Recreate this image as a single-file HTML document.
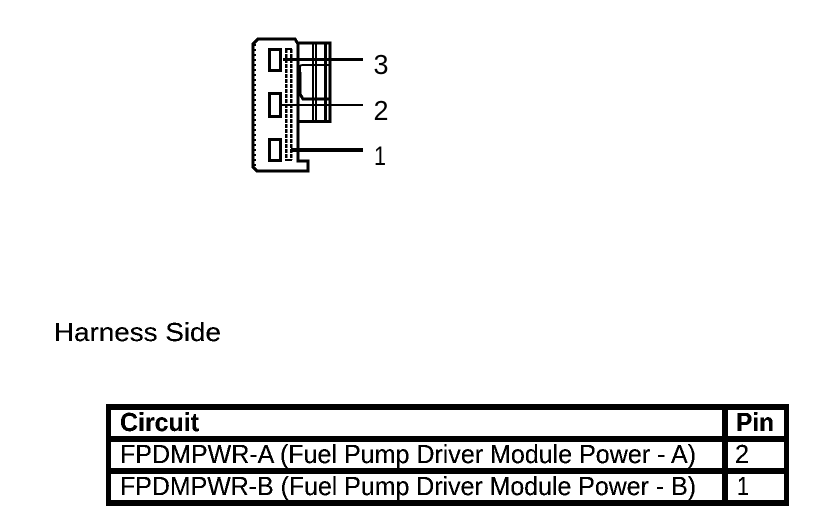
<!DOCTYPE html>
<html>
<head>
<meta charset="utf-8">
<style>
html,body{margin:0;padding:0;background:#fff;width:832px;height:518px;overflow:hidden}
svg{display:block}
text{font-family:"Liberation Sans",Arial,sans-serif;fill:#000}
</style>
</head>
<body>
<svg width="832" height="518" viewBox="0 0 832 518" xmlns="http://www.w3.org/2000/svg">
<defs>
<filter id="hard" x="0" y="0" width="100%" height="100%" color-interpolation-filters="sRGB">
<feComponentTransfer>
<feFuncA type="discrete" tableValues="0 1 1 1"/>
</feComponentTransfer>
</filter>
</defs>
<rect width="832" height="518" fill="#fff"/>

<!-- connector -->
<g fill="none" stroke="#000" shape-rendering="crispEdges">
  <!-- shell -->
  <path d="M298 44 L295 39 H258 L253 44 V167 L257 171 H308 V161 H298 Z" stroke-width="3"/>
  <path d="M255 44 V166" stroke-width="2" stroke-dasharray="2 3"/>
  <!-- sockets -->
  <rect x="269.500" y="49.500" width="11" height="21" stroke-width="3"/>
  <rect x="269.500" y="93.500" width="11" height="23" stroke-width="3"/>
  <rect x="269.500" y="139.500" width="11" height="21" stroke-width="3"/>
  <!-- inner rail -->
  <path d="M286 49 V160" stroke-width="2.500" stroke-dasharray="4 1"/>
  <path d="M291 49 V160" stroke-width="2.500" stroke-dasharray="4 1"/>
  <path d="M285 49 H292 M285 160 H292" stroke-width="2"/>
  <!-- rear housing -->
  <path d="M297 43 H330 V121.500 H298" stroke-width="3"/>
  <path d="M298 42 V160" stroke-width="3"/>
  <path d="M313 43 V121 M316 43 V121" stroke-width="2"/>
  <path d="M325.500 43 V121" stroke-width="3"/>
  <path d="M300 72 V66 L302 65 H331" stroke-width="2"/>
  <path d="M300 72 V94 L303 99 H330" stroke-width="3"/>
  <!-- leader lines -->
  <path d="M283 59.500 H363" stroke-width="3"/>
  <path d="M280 105 H363" stroke-width="2"/>
  <path d="M291 150 H363" stroke-width="4"/>
</g>

<g>
  <text x="373.500" y="74" font-size="28" textLength="15" lengthAdjust="spacingAndGlyphs">3</text>
  <text x="373.500" y="120" font-size="28" textLength="15" lengthAdjust="spacingAndGlyphs">2</text>
  <text x="374" y="165" font-size="27" textLength="12" lengthAdjust="spacingAndGlyphs">1</text>
</g>
<g filter="url(#hard)">
  <text x="54" y="341" font-size="26" textLength="167" lengthAdjust="spacingAndGlyphs">Harness Side</text>
</g>

<!-- table -->
<rect x="106" y="404" width="683" height="102" fill="#000"/>
<rect x="111" y="410" width="611" height="26" fill="#fff"/>
<rect x="728" y="410" width="56" height="26" fill="#fff"/>
<rect x="111" y="442" width="611" height="26" fill="#fff"/>
<rect x="728" y="442" width="56" height="26" fill="#fff"/>
<rect x="111" y="474" width="611" height="26" fill="#fff"/>
<rect x="728" y="474" width="56" height="26" fill="#fff"/>

<g filter="url(#hard)">
  <text x="120" y="431" font-size="26" font-weight="bold" textLength="79" lengthAdjust="spacingAndGlyphs">Circuit</text>
  <text x="736" y="431" font-size="26" font-weight="bold" textLength="38" lengthAdjust="spacingAndGlyphs">Pin</text>
  <text x="120" y="463" font-size="26" textLength="576" lengthAdjust="spacingAndGlyphs">FPDMPWR-A (Fuel Pump Driver Module Power - A)</text>
  <text x="735" y="463" font-size="26" textLength="14" lengthAdjust="spacingAndGlyphs">2</text>
  <text x="120" y="495" font-size="26" textLength="576" lengthAdjust="spacingAndGlyphs">FPDMPWR-B (Fuel Pump Driver Module Power - B)</text>
  <text x="737" y="495" font-size="26" textLength="12" lengthAdjust="spacingAndGlyphs">1</text>
</g>
</svg>
</body>
</html>
